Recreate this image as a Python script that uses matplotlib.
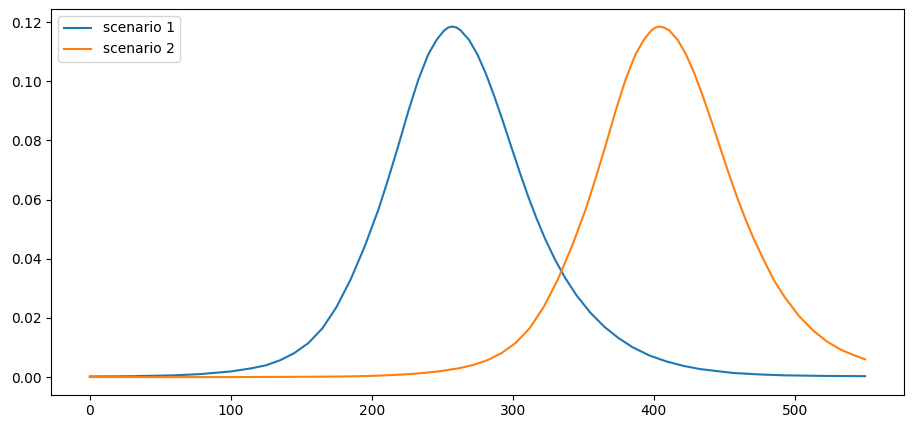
import matplotlib
matplotlib.use("Agg")
import matplotlib.pyplot as plt

# scenario 1
s1_x = [0, 30, 60, 78, 100, 115, 125, 135, 145, 155, 165, 175, 185, 195, 205,
        212, 219, 226, 233, 240, 246, 251, 254, 257, 260, 263, 269, 275, 281,
        287, 293, 299, 305, 311, 317, 323, 330, 337, 345, 355, 365, 375, 385,
        397, 409, 421, 433, 456, 475, 492, 520, 550]
s1_y = [0.0002, 0.0003, 0.0006, 0.0010, 0.0019, 0.0030, 0.0040, 0.0057, 0.0081,
        0.0115, 0.0165, 0.0237, 0.0330, 0.0442, 0.0570, 0.0675, 0.0785, 0.0900,
        0.1005, 0.1090, 0.1140, 0.1170, 0.1181, 0.1185, 0.1182, 0.1172, 0.1140,
        0.1090, 0.1025, 0.0948, 0.0865, 0.0778, 0.0692, 0.0610, 0.0535, 0.0467,
        0.0397, 0.0337, 0.0278, 0.0218, 0.0170, 0.0132, 0.0101, 0.0073, 0.0053,
        0.0038, 0.0027, 0.0014, 0.0009, 0.0006, 0.0004, 0.0003]

# scenario 2
s2_x = [0, 100, 150, 180, 200, 215, 230, 247, 262, 272, 282, 292, 302, 312,
        322, 332, 342, 352, 359, 366, 373, 380, 387, 393, 398, 401, 404, 407,
        411, 417, 423, 429, 435, 441, 447, 453, 459, 465, 471, 478, 485, 493,
        503, 513, 523, 533, 541, 550]
s2_y = [0.0000, 0.0000, 0.0001, 0.0002, 0.0004, 0.0007, 0.0011, 0.0019, 0.0030,
        0.0041, 0.0057, 0.0081, 0.0115, 0.0165, 0.0237, 0.0330, 0.0442, 0.0570,
        0.0675, 0.0785, 0.0900, 0.1005, 0.1090, 0.1140, 0.1170, 0.1181, 0.1185,
        0.1182, 0.1172, 0.1140, 0.1090, 0.1025, 0.0948, 0.0865, 0.0778, 0.0692,
        0.0610, 0.0535, 0.0467, 0.0397, 0.0330, 0.0270, 0.0207, 0.0158, 0.0120,
        0.0092, 0.0076, 0.0060]

fig = plt.figure(figsize=(9.13, 4.28), dpi=100)
ax = fig.add_axes([0.056, 0.078, 0.934, 0.901])
ax.plot(s1_x, s1_y, label="scenario 1")
ax.plot(s2_x, s2_y, label="scenario 2")
ax.legend(loc="upper left")
fig.savefig("out.png", dpi=100)
